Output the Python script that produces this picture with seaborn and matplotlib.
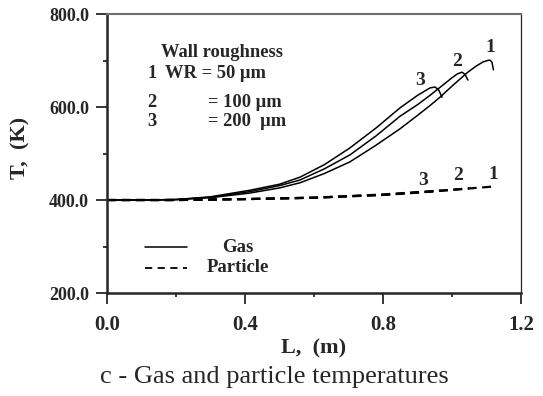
import numpy as np
import pandas as pd
import matplotlib
matplotlib.use("Agg")
import matplotlib.pyplot as plt
from matplotlib import ticker
from matplotlib.lines import Line2D
import seaborn as sns

# Datos (L en m, T en K)
L_gas1 = [0.0, 0.1, 0.2, 0.3, 0.414, 0.5, 0.559, 0.63, 0.704, 0.78, 0.849, 0.9, 0.936, 0.965,
          1.0, 1.046, 1.07, 1.09, 1.103, 1.11, 1.116, 1.12]
T_gas1 = [400, 400, 401, 405, 415, 426, 437, 457, 482, 518, 553, 582, 603, 621,
          645, 675, 688, 697, 700, 701, 696, 680]

L_gas2 = [0.0, 0.1, 0.2, 0.3, 0.414, 0.5, 0.559, 0.63, 0.704, 0.78, 0.849, 0.9, 0.936, 0.975,
          1.0, 1.015, 1.029, 1.038, 1.046]
T_gas2 = [400, 400, 401, 406, 418, 431, 443, 467, 497, 538, 580, 605, 625, 648,
          663, 671, 675, 670, 658]

L_gas3 = [0.0, 0.1, 0.2, 0.3, 0.414, 0.5, 0.559, 0.63, 0.704, 0.78, 0.849, 0.9, 0.936, 0.951,
          0.962, 0.971]
T_gas3 = [400, 400, 401, 407, 421, 434, 449, 476, 512, 555, 598, 625, 641, 643,
          636, 621]

L_part1 = [0.0, 0.2, 0.4, 0.6, 0.8, 0.9, 1.0, 1.12]
T_part1 = [400, 400, 402, 405, 411, 416, 422, 429]
L_part2 = [0.0, 0.2, 0.4, 0.6, 0.8, 0.9, 1.0, 1.05]
T_part2 = [400, 400, 402, 405, 411, 416, 422, 425]
L_part3 = [0.0, 0.2, 0.4, 0.6, 0.8, 0.9, 0.97]
T_part3 = [400, 400, 402, 405, 412, 417, 420]

xticks = [0.0, 0.4, 0.8, 1.2]
yticks = [200, 400, 600, 800]

sns.set_style("ticks")
plt.rcParams['font.family'] = ['Liberation Serif', 'DejaVu Serif']

fig = plt.figure(figsize=(5.43, 3.96), dpi=100)
ax = fig.add_axes([0.197, 0.26, 0.7625, 0.7046])

# Gas -> linea continua
for L, T in [(L_gas1, T_gas1), (L_gas2, T_gas2), (L_gas3, T_gas3)]:
    sns.lineplot(x=L, y=T, ax=ax, color='black', lw=1.1, sort=False, estimator=None)

# Particula -> linea a trazos
for L, T in [(L_part1, T_part1), (L_part2, T_part2), (L_part3, T_part3)]:
    sns.lineplot(x=L, y=T, ax=ax, color='black', lw=1.6, sort=False, estimator=None,
                 linestyle=(0, (4, 2.5)))

ax.set_xlim(0, 1.2)
ax.set_ylim(200, 800)
ax.set_xticks(xticks)
ax.set_yticks(yticks)
ax.xaxis.set_major_formatter(ticker.FormatStrFormatter('%.1f'))
ax.yaxis.set_major_formatter(ticker.FormatStrFormatter('%.1f'))
ax.xaxis.set_minor_locator(ticker.MultipleLocator(0.2))
ax.yaxis.set_minor_locator(ticker.MultipleLocator(100))
ax.tick_params(which='major', length=8, width=1.3, direction='out')
ax.tick_params(which='minor', length=3, width=1.3, direction='out')
ax.tick_params(axis='x', labelsize=15, pad=8)
ax.tick_params(axis='y', labelsize=13, pad=5)
for lab in ax.get_xticklabels() + ax.get_yticklabels():
    lab.set_fontweight('bold')

# Bordes
ax.spines['left'].set_linewidth(1.8)
ax.spines['bottom'].set_linewidth(1.8)
ax.spines['top'].set_color('#6e6e6e')
ax.spines['top'].set_linewidth(1.5)
ax.spines['right'].set_linewidth(0.9)

ax.set_xlabel('L,  (m)', fontsize=16, fontweight='bold', labelpad=2)
ax.set_ylabel('T,  (K)', fontsize=16, fontweight='bold')
ax.yaxis.set_label_coords(-0.185, 0.52)

# Textos
tb = dict(fontsize=13.3, fontweight='bold', va='center')
ax.text(0.157, 718, 'Wall roughness', ha='left', **tb)
ax.text(0.13, 673, '1', ha='center', **tb)
ax.text(0.168, 673, 'WR = 50 μm', ha='left', **tb)
ax.text(0.13, 609, '2', ha='center', **tb)
ax.text(0.293, 609, '= 100 μm', ha='left', **tb)
ax.text(0.13, 568, '3', ha='center', **tb)
ax.text(0.293, 568, '= 200  μm', ha='left', **tb)

tl = dict(fontsize=14, fontweight='bold', ha='center', va='center')
ax.text(1.11, 729, '1', **tl)
ax.text(1.014, 697, '2', **tl)
ax.text(0.907, 658, '3', **tl)
ax.text(1.119, 454, '1', **tl)
ax.text(1.017, 452, '2', **tl)
ax.text(0.916, 443, '3', **tl)

# Leyenda manual
ax.add_line(Line2D([0.092, 0.193], [0.165, 0.165], transform=ax.transAxes, color='black', lw=1.1))
ax.add_line(Line2D([0.092, 0.193], [0.09, 0.09], transform=ax.transAxes, color='black', lw=1.3,
                   linestyle=(0, (4, 3))))
ax.text(0.316, 0.165, 'Gas', transform=ax.transAxes, fontsize=13.5, fontweight='bold', ha='center', va='center')
ax.text(0.316, 0.09, 'Particle', transform=ax.transAxes, fontsize=13.5, fontweight='bold', ha='center', va='center')

fig.text(0.505, 0.048, 'c - Gas and particle temperatures', fontsize=19, ha='center', va='center')

fig.savefig('out.png', dpi=100)
